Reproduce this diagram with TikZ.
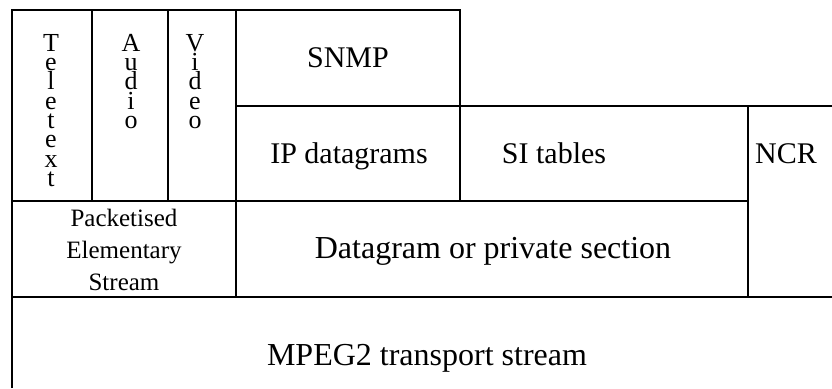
\documentclass[tikz,border=0pt]{standalone}
\usepackage{fontspec}
\setmainfont{Liberation Serif}
\begin{document}
\begin{tikzpicture}[x=1pt,y=-1pt,
  rule/.style={line width=1.6pt,black},
  lbl/.style={inner sep=0pt,anchor=base,font=\fontsize{30}{34}\selectfont},
  vert/.style={inner sep=0pt,anchor=north,align=center,font=\fontsize{26}{19.3}\selectfont},
  pes/.style={inner sep=0pt,anchor=base,font=\fontsize{25}{32}\selectfont}]
\useasboundingbox (0,0) rectangle (832,388);
% grid lines
\draw[rule] (12,388) -- (12,10) -- (460,10) -- (460,201);
\draw[rule] (92,10) -- (92,201);
\draw[rule] (168,10) -- (168,201);
\draw[rule] (236,10) -- (236,297);
\draw[rule] (236,106) -- (832,106);
\draw[rule] (748,106) -- (748,297);
\draw[rule] (12,201) -- (748,201);
\draw[rule] (12,297) -- (832,297);
% texts
\node[vert] (tele) at (51,34) {T\\e\\l\\e\\t\\e\\x\\t};
\node[vert] (audio) at (131,34) {A\\u\\d\\i\\o};
\node[vert] (video) at (195,34) {V\\i\\d\\e\\o};
\node[lbl] (snmp) at (348,67) {SNMP};
\node[lbl] (ip) at (349,163) {IP datagrams};
\node[lbl] (si) at (554,163) {SI tables};
\node[lbl,anchor=base west] (ncr) at (755,163) {NCR};
\node[lbl,font=\fontsize{32}{36}\selectfont] (dg) at (493,258) {Datagram or private section};
\node[lbl,font=\fontsize{32}{36}\selectfont] (ts) at (427,365) {MPEG2 transport stream};
\node[pes] (pes1) at (124,226) {Packetised};
\node[pes] (pes2) at (124,258) {Elementary};
\node[pes] (pes3) at (124,290) {Stream};
\end{tikzpicture}
\end{document}
